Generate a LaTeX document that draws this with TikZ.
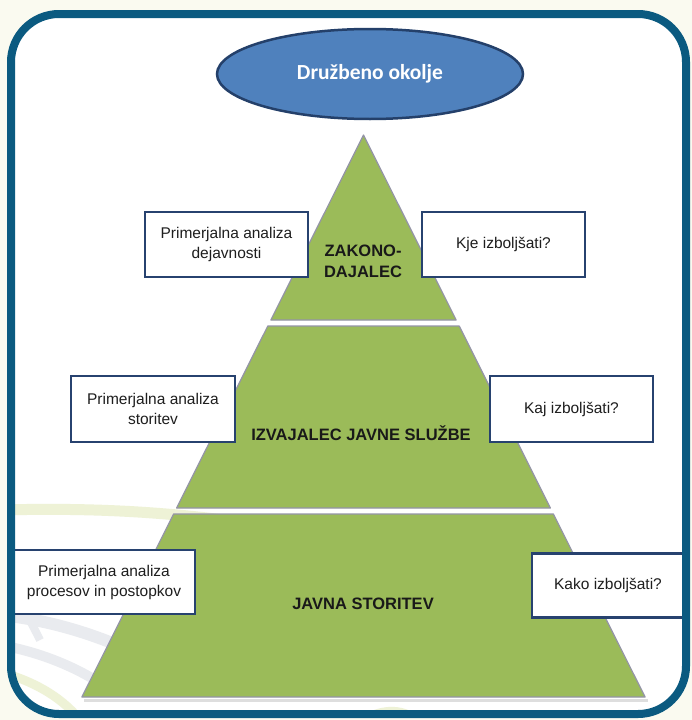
\documentclass[tikz,border=0pt]{standalone}
\usepackage{fontspec}
\setmainfont{Liberation Sans}
\newfontfamily\calib{Carlito}
\usetikzlibrary{shapes.geometric}
\definecolor{framecol}{HTML}{0B5A80}
\definecolor{bgcream}{HTML}{FAFAF0}
\definecolor{pyrgreen}{HTML}{9BBB59}
\definecolor{pyredge}{HTML}{9494A6}
\definecolor{ellfill}{HTML}{4F81BD}
\definecolor{elledge}{HTML}{24406A}
\definecolor{boxedge}{HTML}{27426F}
\definecolor{boxtext}{HTML}{1E1E1E}
\definecolor{swgreen}{HTML}{EEF2D6}
\definecolor{swgrey}{HTML}{E9EBEF}
\tikzset{
  infobox/.style={draw=boxedge, line width=2.8pt, fill=white, align=center,
    text=boxtext, font=\fontsize{15.5}{20}\selectfont, inner sep=0pt},
  pyrlabel/.style={align=center, text=black!90, font=\bfseries\fontsize{16.5}{21}\selectfont},
  pyrpart/.style={fill=pyrgreen, draw=pyredge, line width=1.2pt, line join=round},
  pyrshadow/.style={fill=black!25, opacity=0.5}
}
\begin{document}
\begin{tikzpicture}[x=1pt,y=-1pt]
\useasboundingbox (0,0) rectangle (692,720);
\fill[bgcream] (0,0) rectangle (692,720);
\fill[white, rounded corners=48pt] (11,14) rectangle (686,714);
% background swooshes
\begin{scope}
\clip[rounded corners=48pt] (11,14) rectangle (686,714);
\draw[swgreen, line width=11pt] (0,510) .. controls (80,508) and (160,510) .. (260,525);
\draw[swgrey, line width=12pt] (0,615) .. controls (50,620) and (100,635) .. (150,660);
\draw[swgrey, line width=10pt] (0,645) .. controls (40,652) and (80,668) .. (110,690);
\draw[swgreen, line width=9pt] (0,672) .. controls (30,680) and (60,695) .. (80,720);
\draw[swgrey, line width=8pt] (0,585) .. controls (20,600) and (30,620) .. (40,640);
\draw[swgreen, line width=6pt] (360,720) .. controls (380,708) and (400,705) .. (420,720);
\end{scope}
% pyramid shadow
\fill[pyrshadow] (84,699) -- (648,699) -- (648,702) -- (84,702) -- cycle;
% pyramid parts
\path[pyrpart] (363.5,135) -- (456.2,320) -- (270.8,320) -- cycle;
\path[pyrpart] (267.8,326) -- (459.2,326) -- (550.4,508) -- (176.6,508) -- cycle;
\path[pyrpart] (173.6,514) -- (553.4,514) -- (645.1,697) -- (81.9,697) -- cycle;
% labels in pyramid
\node[pyrlabel] (zak) at (363,261) {ZAKONO-\\DAJALEC};
\node[pyrlabel] (izv) at (361,433) {IZVAJALEC JAVNE SLUŽBE};
\node[pyrlabel] (jav) at (363,604) {JAVNA STORITEV};
% ellipse
\node[ellipse, fill=ellfill, draw=elledge, line width=2.5pt, minimum width=306pt,
  minimum height=90pt, text=white, font=\calib\bfseries\fontsize{21.5}{25}\selectfont]
  (okolje) at (370,74) {Družbeno okolje};
% boxes
\node[infobox, minimum width=163pt, minimum height=65pt] (b1) at (226.5,244.5)
  {Primerjalna analiza\\dejavnosti};
\node[infobox, minimum width=163pt, minimum height=65pt] (b2) at (503.5,244.5)
  {Kje izboljšati?};
\node[infobox, minimum width=164pt, minimum height=66pt] (b3) at (153,409)
  {Primerjalna analiza\\storitev};
\node[infobox, minimum width=163pt, minimum height=66pt] (b4) at (571.5,409)
  {Kaj izboljšati?};
\node[infobox, minimum width=182pt, minimum height=64pt] (b5) at (104,582)
  {Primerjalna analiza\\procesov in postopkov};
\node[infobox, minimum width=152pt, minimum height=64pt] (b6) at (608,585.5)
  {Kako izboljšati?};
% frame
\draw[framecol, line width=8pt, rounded corners=48pt] (11,14) rectangle (686,714);
\end{tikzpicture}
\end{document}
